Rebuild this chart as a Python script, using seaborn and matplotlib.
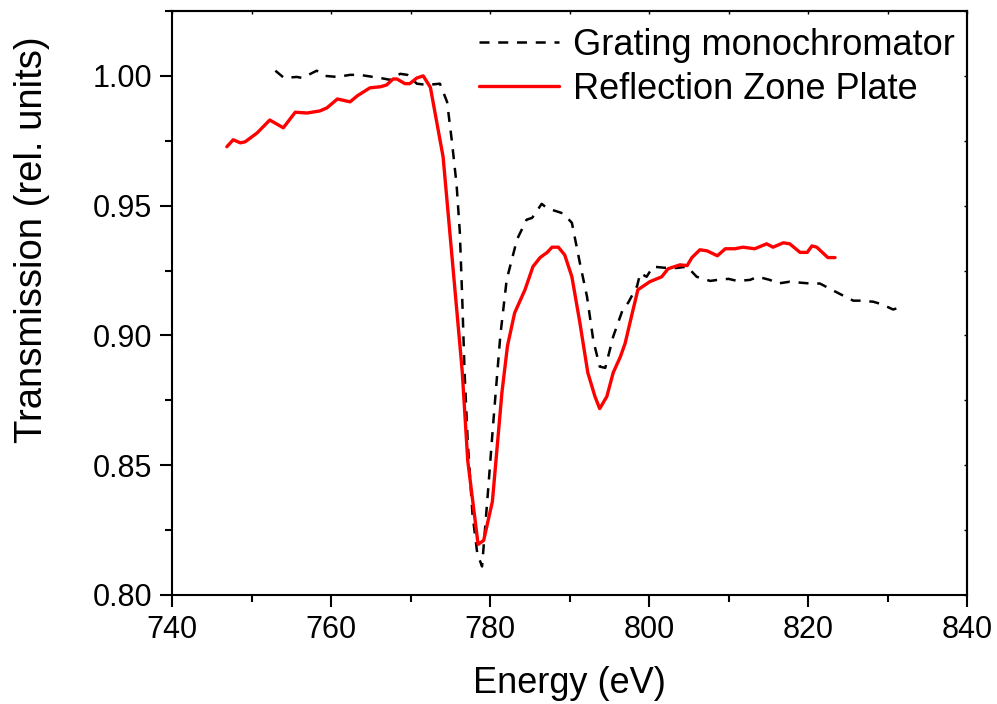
import numpy as np
import pandas as pd
import matplotlib
matplotlib.use("Agg")
import matplotlib.pyplot as plt
import seaborn as sns
from matplotlib.ticker import MultipleLocator, FormatStrFormatter

# ---------------- data ----------------
rzp_energy = [746.9, 747.7, 748.6, 749.2, 750.7, 752.3, 754.0, 755.5, 757.0, 758.6,
              759.5, 760.8, 762.4, 763.3, 764.9, 766.2, 767.0, 767.8, 768.3, 769.3,
              769.9, 770.8, 771.6, 772.5, 774.1, 775.3, 776.5, 777.2, 778.5, 779.2,
              780.3, 781.5, 782.2, 783.1, 784.4, 785.4, 786.3, 787.2, 787.8, 788.6,
              789.4, 790.3, 791.3, 792.3, 793.2, 793.8, 794.7, 795.5, 796.4, 797.0,
              797.9, 798.6, 800.1, 801.6, 802.4, 803.9, 804.8, 805.4, 806.4, 807.3,
              808.6, 809.6, 810.8, 811.8, 813.3, 814.8, 815.6, 816.9, 817.7, 819.0,
              819.9, 820.5, 821.1, 822.5, 823.4]
rzp_trans = [0.9727, 0.9754, 0.9742, 0.9746, 0.978, 0.983, 0.980, 0.986, 0.9857, 0.9865,
             0.9877, 0.9911, 0.990, 0.9923, 0.9954, 0.9958, 0.9965, 0.9988, 0.9988, 0.997,
             0.997, 0.9992, 1.000, 0.9956, 0.9688, 0.9276, 0.8864, 0.8518, 0.8195, 0.821,
             0.836, 0.878, 0.896, 0.9087, 0.9176, 0.9265, 0.930, 0.932, 0.934, 0.934,
             0.931, 0.9226, 0.905, 0.8857, 0.8765, 0.8718, 0.8765, 0.8857, 0.8918, 0.897,
             0.9087, 0.9176, 0.9207, 0.9226, 0.9257, 0.9272, 0.9269, 0.930, 0.933, 0.9326,
             0.9307, 0.9334, 0.9334, 0.934, 0.9334, 0.9353, 0.934, 0.9357, 0.9353, 0.932,
             0.932, 0.9345, 0.934, 0.930, 0.930]

grating_energy = [753.0, 754.1, 755.7, 756.4, 758.2, 759.2, 760.8, 762.4, 763.6, 765.3,
                  766.2, 767.4, 768.7, 769.6, 770.8, 772.1, 773.7, 774.6, 775.2, 775.8,
                  776.2, 776.5, 776.8, 777.2, 777.8, 778.4, 779.0, 779.7, 780.4, 781.3,
                  782.1, 783.4, 784.6, 785.3, 786.5, 787.2, 788.6, 789.2, 790.3, 791.3,
                  792.2, 793.0, 793.8, 794.5, 795.5, 796.7, 797.4, 798.5, 798.9, 799.7,
                  800.5, 802.2, 803.5, 804.8, 806.0, 807.7, 808.6, 810.0, 811.1, 812.7,
                  813.7, 815.2, 816.2, 817.7, 820.3, 821.5, 823.0, 824.0, 825.7, 826.5,
                  828.2, 829.3, 830.7, 831.8]
grating_trans = [1.002, 0.9992, 0.9996, 0.9992, 1.002, 1.000, 0.9996, 1.0004, 1.0004, 0.9996,
                 0.9992, 0.9985, 1.0008, 1.0004, 0.997, 0.9965, 0.997, 0.990, 0.975, 0.958,
                 0.940, 0.915, 0.886, 0.859, 0.831, 0.816, 0.811, 0.838, 0.866, 0.900,
                 0.9215, 0.937, 0.9446, 0.9453, 0.9507, 0.949, 0.9476, 0.947, 0.9434, 0.928,
                 0.915, 0.898, 0.888, 0.8875, 0.8996, 0.910, 0.9127, 0.919, 0.924, 0.9226,
                 0.9265, 0.926, 0.926, 0.9265, 0.9226, 0.921, 0.9214, 0.9218, 0.921, 0.9214,
                 0.9226, 0.9214, 0.920, 0.9207, 0.920, 0.920, 0.9176, 0.916, 0.9134, 0.9134,
                 0.913, 0.912, 0.910, 0.911]

series_labels = ["Grating monochromator", "Reflection Zone Plate"]
x_label = "Energy (eV)"
y_label = "Transmission (rel. units)"

# ---------------- style ----------------
sns.set_style("white")
plt.rcParams["font.family"] = ["Liberation Sans", "DejaVu Sans"]
plt.rcParams["text.color"] = "black"
plt.rcParams["axes.labelcolor"] = "black"
plt.rcParams["xtick.color"] = "black"
plt.rcParams["ytick.color"] = "black"
plt.rcParams["axes.linewidth"] = 1.5

fig = plt.figure(figsize=(9.97, 7.04), dpi=100)
ax = fig.add_axes([172/997, 1-595/704, (967-172)/997, (595-11)/704])

df_g = pd.DataFrame({"Energy": grating_energy, "Transmission": grating_trans})
df_r = pd.DataFrame({"Energy": rzp_energy, "Transmission": rzp_trans})

sns.lineplot(data=df_g, x="Energy", y="Transmission", ax=ax, color="black",
             linewidth=1.8, linestyle=(0, (4, 3.5)), label=series_labels[0], sort=False)
sns.lineplot(data=df_r, x="Energy", y="Transmission", ax=ax, color="#ff0000",
             linewidth=2.4, label=series_labels[1], sort=False)

ax.set_xlim(740, 840)
ax.set_ylim(0.80, 1.025)
ax.xaxis.set_major_locator(MultipleLocator(20))
ax.xaxis.set_minor_locator(MultipleLocator(10))
ax.yaxis.set_major_locator(MultipleLocator(0.05))
ax.yaxis.set_minor_locator(MultipleLocator(0.025))
ax.yaxis.set_major_formatter(FormatStrFormatter("%.2f"))

ax.tick_params(which="major", direction="out", length=8.6, width=1.5,
               labelsize=22, colors="black", pad=5.5)
ax.tick_params(which="minor", direction="out", length=5, width=1.5)
ax.tick_params(which="both", bottom=True, left=True, top=False, right=False)

for s in ax.spines.values():
    s.set_visible(True)
    s.set_color("black")
    s.set_linewidth(1.5)

# tiny inward ticks on top and right
secx = ax.secondary_xaxis("top")
secx.xaxis.set_major_locator(MultipleLocator(10))
secx.tick_params(direction="in", length=2.5, width=1.0, labeltop=False)
secy = ax.secondary_yaxis("right")
secy.yaxis.set_major_locator(MultipleLocator(0.025))
secy.tick_params(direction="in", length=2.5, width=1.0, labelright=False)

ax.set_xlabel(x_label, fontsize=26)
ax.set_ylabel(y_label, fontsize=27.5)
ax.xaxis.set_label_coords(0.5, -(673 - 595 - 7) / 584)
ax.yaxis.set_label_coords(-(172 - 50) / 795, (595 - 240) / 584)

leg = ax.legend(loc="upper right", bbox_to_anchor=(0.985, 0.971), frameon=False,
                fontsize=26, handlelength=2.2, handletextpad=0.4,
                labelspacing=0.25, borderpad=0, borderaxespad=0)

fig.savefig("out.png", dpi=100)
